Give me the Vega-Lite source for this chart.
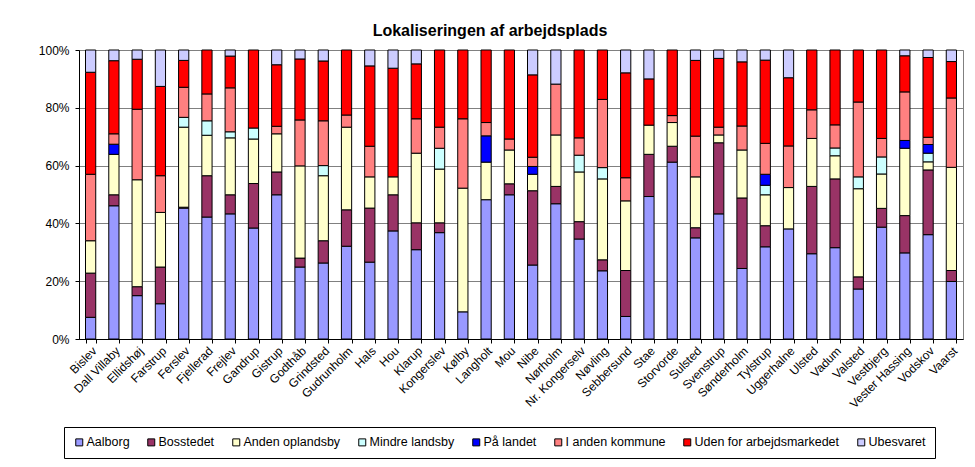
{
  "$schema": "https://vega.github.io/schema/vega-lite/v6.json",
  "width": 884,
  "height": 289,
  "autosize": "none",
  "padding": {"left": 79, "top": 50, "right": 12, "bottom": 128},
  "background": "white",
  "config": {
    "font": "Liberation Sans",
    "view": {"stroke": "#808080", "strokeWidth": 1}
  },
  "title": {
    "text": "Lokaliseringen af arbejdsplads",
    "fontSize": 16,
    "fontWeight": "bold",
    "color": "black",
    "anchor": "middle",
    "dx": -31,
    "offset": 5
  },
  "data": {
    "values": [
      {"by": "Bislev", "kat": "Aalborg", "n": 1, "v": 7.5}, {"by": "Bislev", "kat": "Bosstedet", "n": 2, "v": 15.3}, {"by": "Bislev", "kat": "Anden oplandsby", "n": 3, "v": 11.2}, {"by": "Bislev", "kat": "I anden kommune", "n": 6, "v": 23.0}, {"by": "Bislev", "kat": "Uden for arbejdsmarkedet", "n": 7, "v": 35.3}, {"by": "Bislev", "kat": "Ubesvaret", "n": 8, "v": 7.7},
      {"by": "Dall Villaby", "kat": "Aalborg", "n": 1, "v": 46.1}, {"by": "Dall Villaby", "kat": "Bosstedet", "n": 2, "v": 3.8}, {"by": "Dall Villaby", "kat": "Anden oplandsby", "n": 3, "v": 14.0}, {"by": "Dall Villaby", "kat": "På landet", "n": 5, "v": 3.5}, {"by": "Dall Villaby", "kat": "I anden kommune", "n": 6, "v": 3.6}, {"by": "Dall Villaby", "kat": "Uden for arbejdsmarkedet", "n": 7, "v": 25.3}, {"by": "Dall Villaby", "kat": "Ubesvaret", "n": 8, "v": 3.7},
      {"by": "Ellidshøj", "kat": "Aalborg", "n": 1, "v": 15.0}, {"by": "Ellidshøj", "kat": "Bosstedet", "n": 2, "v": 3.1}, {"by": "Ellidshøj", "kat": "Anden oplandsby", "n": 3, "v": 37.0}, {"by": "Ellidshøj", "kat": "I anden kommune", "n": 6, "v": 24.4}, {"by": "Ellidshøj", "kat": "Uden for arbejdsmarkedet", "n": 7, "v": 17.3}, {"by": "Ellidshøj", "kat": "Ubesvaret", "n": 8, "v": 3.2},
      {"by": "Farstrup", "kat": "Aalborg", "n": 1, "v": 12.2}, {"by": "Farstrup", "kat": "Bosstedet", "n": 2, "v": 12.7}, {"by": "Farstrup", "kat": "Anden oplandsby", "n": 3, "v": 18.9}, {"by": "Farstrup", "kat": "I anden kommune", "n": 6, "v": 12.7}, {"by": "Farstrup", "kat": "Uden for arbejdsmarkedet", "n": 7, "v": 30.9}, {"by": "Farstrup", "kat": "Ubesvaret", "n": 8, "v": 12.6},
      {"by": "Ferslev", "kat": "Aalborg", "n": 1, "v": 45.3}, {"by": "Ferslev", "kat": "Bosstedet", "n": 2, "v": 0.3}, {"by": "Ferslev", "kat": "Anden oplandsby", "n": 3, "v": 27.7}, {"by": "Ferslev", "kat": "Mindre landsby", "n": 4, "v": 3.4}, {"by": "Ferslev", "kat": "I anden kommune", "n": 6, "v": 10.4}, {"by": "Ferslev", "kat": "Uden for arbejdsmarkedet", "n": 7, "v": 9.3}, {"by": "Ferslev", "kat": "Ubesvaret", "n": 8, "v": 3.6},
      {"by": "Fjellerad", "kat": "Aalborg", "n": 1, "v": 42.2}, {"by": "Fjellerad", "kat": "Bosstedet", "n": 2, "v": 14.3}, {"by": "Fjellerad", "kat": "Anden oplandsby", "n": 3, "v": 14.0}, {"by": "Fjellerad", "kat": "Mindre landsby", "n": 4, "v": 5.0}, {"by": "Fjellerad", "kat": "I anden kommune", "n": 6, "v": 9.3}, {"by": "Fjellerad", "kat": "Uden for arbejdsmarkedet", "n": 7, "v": 15.2},
      {"by": "Frejlev", "kat": "Aalborg", "n": 1, "v": 43.3}, {"by": "Frejlev", "kat": "Bosstedet", "n": 2, "v": 6.6}, {"by": "Frejlev", "kat": "Anden oplandsby", "n": 3, "v": 19.7}, {"by": "Frejlev", "kat": "Mindre landsby", "n": 4, "v": 2.1}, {"by": "Frejlev", "kat": "I anden kommune", "n": 6, "v": 15.2}, {"by": "Frejlev", "kat": "Uden for arbejdsmarkedet", "n": 7, "v": 11.0}, {"by": "Frejlev", "kat": "Ubesvaret", "n": 8, "v": 2.1},
      {"by": "Gandrup", "kat": "Aalborg", "n": 1, "v": 38.4}, {"by": "Gandrup", "kat": "Bosstedet", "n": 2, "v": 15.4}, {"by": "Gandrup", "kat": "Anden oplandsby", "n": 3, "v": 15.4}, {"by": "Gandrup", "kat": "Mindre landsby", "n": 4, "v": 3.8}, {"by": "Gandrup", "kat": "Uden for arbejdsmarkedet", "n": 7, "v": 27.0},
      {"by": "Gistrup", "kat": "Aalborg", "n": 1, "v": 49.9}, {"by": "Gistrup", "kat": "Bosstedet", "n": 2, "v": 7.9}, {"by": "Gistrup", "kat": "Anden oplandsby", "n": 3, "v": 13.2}, {"by": "Gistrup", "kat": "I anden kommune", "n": 6, "v": 2.6}, {"by": "Gistrup", "kat": "Uden for arbejdsmarkedet", "n": 7, "v": 21.3}, {"by": "Gistrup", "kat": "Ubesvaret", "n": 8, "v": 5.1},
      {"by": "Godthåb", "kat": "Aalborg", "n": 1, "v": 24.9}, {"by": "Godthåb", "kat": "Bosstedet", "n": 2, "v": 3.1}, {"by": "Godthåb", "kat": "Anden oplandsby", "n": 3, "v": 31.9}, {"by": "Godthåb", "kat": "I anden kommune", "n": 6, "v": 15.9}, {"by": "Godthåb", "kat": "Uden for arbejdsmarkedet", "n": 7, "v": 21.1}, {"by": "Godthåb", "kat": "Ubesvaret", "n": 8, "v": 3.1},
      {"by": "Grindsted", "kat": "Aalborg", "n": 1, "v": 26.3}, {"by": "Grindsted", "kat": "Bosstedet", "n": 2, "v": 7.7}, {"by": "Grindsted", "kat": "Anden oplandsby", "n": 3, "v": 22.5}, {"by": "Grindsted", "kat": "Mindre landsby", "n": 4, "v": 3.5}, {"by": "Grindsted", "kat": "I anden kommune", "n": 6, "v": 15.5}, {"by": "Grindsted", "kat": "Uden for arbejdsmarkedet", "n": 7, "v": 20.7}, {"by": "Grindsted", "kat": "Ubesvaret", "n": 8, "v": 3.8},
      {"by": "Gudrunholm", "kat": "Aalborg", "n": 1, "v": 32.1}, {"by": "Gudrunholm", "kat": "Bosstedet", "n": 2, "v": 12.6}, {"by": "Gudrunholm", "kat": "Anden oplandsby", "n": 3, "v": 28.6}, {"by": "Gudrunholm", "kat": "I anden kommune", "n": 6, "v": 4.2}, {"by": "Gudrunholm", "kat": "Uden for arbejdsmarkedet", "n": 7, "v": 22.5},
      {"by": "Hals", "kat": "Aalborg", "n": 1, "v": 26.6}, {"by": "Hals", "kat": "Bosstedet", "n": 2, "v": 18.7}, {"by": "Hals", "kat": "Anden oplandsby", "n": 3, "v": 10.8}, {"by": "Hals", "kat": "I anden kommune", "n": 6, "v": 10.6}, {"by": "Hals", "kat": "Uden for arbejdsmarkedet", "n": 7, "v": 27.8}, {"by": "Hals", "kat": "Ubesvaret", "n": 8, "v": 5.5},
      {"by": "Hou", "kat": "Aalborg", "n": 1, "v": 37.4}, {"by": "Hou", "kat": "Bosstedet", "n": 2, "v": 12.5}, {"by": "Hou", "kat": "Anden oplandsby", "n": 3, "v": 6.2}, {"by": "Hou", "kat": "Uden for arbejdsmarkedet", "n": 7, "v": 37.6}, {"by": "Hou", "kat": "Ubesvaret", "n": 8, "v": 6.3},
      {"by": "Klarup", "kat": "Aalborg", "n": 1, "v": 30.9}, {"by": "Klarup", "kat": "Bosstedet", "n": 2, "v": 9.3}, {"by": "Klarup", "kat": "Anden oplandsby", "n": 3, "v": 24.1}, {"by": "Klarup", "kat": "I anden kommune", "n": 6, "v": 11.9}, {"by": "Klarup", "kat": "Uden for arbejdsmarkedet", "n": 7, "v": 19.0}, {"by": "Klarup", "kat": "Ubesvaret", "n": 8, "v": 4.8},
      {"by": "Kongerslev", "kat": "Aalborg", "n": 1, "v": 36.8}, {"by": "Kongerslev", "kat": "Bosstedet", "n": 2, "v": 3.4}, {"by": "Kongerslev", "kat": "Anden oplandsby", "n": 3, "v": 18.6}, {"by": "Kongerslev", "kat": "Mindre landsby", "n": 4, "v": 7.2}, {"by": "Kongerslev", "kat": "I anden kommune", "n": 6, "v": 7.3}, {"by": "Kongerslev", "kat": "Uden for arbejdsmarkedet", "n": 7, "v": 26.7},
      {"by": "Kølby", "kat": "Aalborg", "n": 1, "v": 9.4}, {"by": "Kølby", "kat": "Anden oplandsby", "n": 3, "v": 42.8}, {"by": "Kølby", "kat": "I anden kommune", "n": 6, "v": 24.0}, {"by": "Kølby", "kat": "Uden for arbejdsmarkedet", "n": 7, "v": 23.8},
      {"by": "Langholt", "kat": "Aalborg", "n": 1, "v": 48.2}, {"by": "Langholt", "kat": "Anden oplandsby", "n": 3, "v": 13.0}, {"by": "Langholt", "kat": "På landet", "n": 5, "v": 9.1}, {"by": "Langholt", "kat": "I anden kommune", "n": 6, "v": 4.6}, {"by": "Langholt", "kat": "Uden for arbejdsmarkedet", "n": 7, "v": 25.1},
      {"by": "Mou", "kat": "Aalborg", "n": 1, "v": 49.9}, {"by": "Mou", "kat": "Bosstedet", "n": 2, "v": 3.8}, {"by": "Mou", "kat": "Anden oplandsby", "n": 3, "v": 11.7}, {"by": "Mou", "kat": "I anden kommune", "n": 6, "v": 3.8}, {"by": "Mou", "kat": "Uden for arbejdsmarkedet", "n": 7, "v": 30.8},
      {"by": "Nibe", "kat": "Aalborg", "n": 1, "v": 25.6}, {"by": "Nibe", "kat": "Bosstedet", "n": 2, "v": 25.7}, {"by": "Nibe", "kat": "Anden oplandsby", "n": 3, "v": 5.7}, {"by": "Nibe", "kat": "På landet", "n": 5, "v": 2.7}, {"by": "Nibe", "kat": "I anden kommune", "n": 6, "v": 3.2}, {"by": "Nibe", "kat": "Uden for arbejdsmarkedet", "n": 7, "v": 28.5}, {"by": "Nibe", "kat": "Ubesvaret", "n": 8, "v": 8.6},
      {"by": "Nørholm", "kat": "Aalborg", "n": 1, "v": 46.8}, {"by": "Nørholm", "kat": "Bosstedet", "n": 2, "v": 6.0}, {"by": "Nørholm", "kat": "Anden oplandsby", "n": 3, "v": 17.8}, {"by": "Nørholm", "kat": "I anden kommune", "n": 6, "v": 17.6}, {"by": "Nørholm", "kat": "Ubesvaret", "n": 8, "v": 11.8},
      {"by": "Nr. Kongerselv", "kat": "Aalborg", "n": 1, "v": 34.6}, {"by": "Nr. Kongerselv", "kat": "Bosstedet", "n": 2, "v": 6.0}, {"by": "Nr. Kongerselv", "kat": "Anden oplandsby", "n": 3, "v": 17.2}, {"by": "Nr. Kongerselv", "kat": "Mindre landsby", "n": 4, "v": 5.8}, {"by": "Nr. Kongerselv", "kat": "I anden kommune", "n": 6, "v": 6.0}, {"by": "Nr. Kongerselv", "kat": "Uden for arbejdsmarkedet", "n": 7, "v": 30.4},
      {"by": "Nøvling", "kat": "Aalborg", "n": 1, "v": 23.6}, {"by": "Nøvling", "kat": "Bosstedet", "n": 2, "v": 3.8}, {"by": "Nøvling", "kat": "Anden oplandsby", "n": 3, "v": 28.0}, {"by": "Nøvling", "kat": "Mindre landsby", "n": 4, "v": 3.9}, {"by": "Nøvling", "kat": "I anden kommune", "n": 6, "v": 23.6}, {"by": "Nøvling", "kat": "Uden for arbejdsmarkedet", "n": 7, "v": 17.1},
      {"by": "Sebbersund", "kat": "Aalborg", "n": 1, "v": 7.8}, {"by": "Sebbersund", "kat": "Bosstedet", "n": 2, "v": 15.9}, {"by": "Sebbersund", "kat": "Anden oplandsby", "n": 3, "v": 24.1}, {"by": "Sebbersund", "kat": "I anden kommune", "n": 6, "v": 8.0}, {"by": "Sebbersund", "kat": "Uden for arbejdsmarkedet", "n": 7, "v": 36.3}, {"by": "Sebbersund", "kat": "Ubesvaret", "n": 8, "v": 7.9},
      {"by": "Stae", "kat": "Aalborg", "n": 1, "v": 49.3}, {"by": "Stae", "kat": "Bosstedet", "n": 2, "v": 14.6}, {"by": "Stae", "kat": "Anden oplandsby", "n": 3, "v": 10.1}, {"by": "Stae", "kat": "Uden for arbejdsmarkedet", "n": 7, "v": 16.0}, {"by": "Stae", "kat": "Ubesvaret", "n": 8, "v": 10.0},
      {"by": "Storvorde", "kat": "Aalborg", "n": 1, "v": 61.2}, {"by": "Storvorde", "kat": "Bosstedet", "n": 2, "v": 5.5}, {"by": "Storvorde", "kat": "Anden oplandsby", "n": 3, "v": 8.2}, {"by": "Storvorde", "kat": "I anden kommune", "n": 6, "v": 2.4}, {"by": "Storvorde", "kat": "Uden for arbejdsmarkedet", "n": 7, "v": 22.7},
      {"by": "Sulsted", "kat": "Aalborg", "n": 1, "v": 35.0}, {"by": "Sulsted", "kat": "Bosstedet", "n": 2, "v": 3.5}, {"by": "Sulsted", "kat": "Anden oplandsby", "n": 3, "v": 17.6}, {"by": "Sulsted", "kat": "I anden kommune", "n": 6, "v": 14.1}, {"by": "Sulsted", "kat": "Uden for arbejdsmarkedet", "n": 7, "v": 26.2}, {"by": "Sulsted", "kat": "Ubesvaret", "n": 8, "v": 3.6},
      {"by": "Svenstrup", "kat": "Aalborg", "n": 1, "v": 43.3}, {"by": "Svenstrup", "kat": "Bosstedet", "n": 2, "v": 24.6}, {"by": "Svenstrup", "kat": "Anden oplandsby", "n": 3, "v": 2.7}, {"by": "Svenstrup", "kat": "I anden kommune", "n": 6, "v": 2.7}, {"by": "Svenstrup", "kat": "Uden for arbejdsmarkedet", "n": 7, "v": 23.8}, {"by": "Svenstrup", "kat": "Ubesvaret", "n": 8, "v": 2.9},
      {"by": "Sønderholm", "kat": "Aalborg", "n": 1, "v": 24.4}, {"by": "Sønderholm", "kat": "Bosstedet", "n": 2, "v": 24.4}, {"by": "Sønderholm", "kat": "Anden oplandsby", "n": 3, "v": 16.6}, {"by": "Sønderholm", "kat": "I anden kommune", "n": 6, "v": 8.3}, {"by": "Sønderholm", "kat": "Uden for arbejdsmarkedet", "n": 7, "v": 22.2}, {"by": "Sønderholm", "kat": "Ubesvaret", "n": 8, "v": 4.1},
      {"by": "Tylstrup", "kat": "Aalborg", "n": 1, "v": 31.9}, {"by": "Tylstrup", "kat": "Bosstedet", "n": 2, "v": 7.3}, {"by": "Tylstrup", "kat": "Anden oplandsby", "n": 3, "v": 10.7}, {"by": "Tylstrup", "kat": "Mindre landsby", "n": 4, "v": 3.3}, {"by": "Tylstrup", "kat": "På landet", "n": 5, "v": 3.8}, {"by": "Tylstrup", "kat": "I anden kommune", "n": 6, "v": 10.7}, {"by": "Tylstrup", "kat": "Uden for arbejdsmarkedet", "n": 7, "v": 28.8}, {"by": "Tylstrup", "kat": "Ubesvaret", "n": 8, "v": 3.5},
      {"by": "Uggerhalne", "kat": "Aalborg", "n": 1, "v": 38.1}, {"by": "Uggerhalne", "kat": "Anden oplandsby", "n": 3, "v": 14.3}, {"by": "Uggerhalne", "kat": "I anden kommune", "n": 6, "v": 14.4}, {"by": "Uggerhalne", "kat": "Uden for arbejdsmarkedet", "n": 7, "v": 23.6}, {"by": "Uggerhalne", "kat": "Ubesvaret", "n": 8, "v": 9.6},
      {"by": "Ulsted", "kat": "Aalborg", "n": 1, "v": 29.5}, {"by": "Ulsted", "kat": "Bosstedet", "n": 2, "v": 23.3}, {"by": "Ulsted", "kat": "Anden oplandsby", "n": 3, "v": 16.6}, {"by": "Ulsted", "kat": "I anden kommune", "n": 6, "v": 9.9}, {"by": "Ulsted", "kat": "Uden for arbejdsmarkedet", "n": 7, "v": 20.7},
      {"by": "Vadum", "kat": "Aalborg", "n": 1, "v": 31.6}, {"by": "Vadum", "kat": "Bosstedet", "n": 2, "v": 23.8}, {"by": "Vadum", "kat": "Anden oplandsby", "n": 3, "v": 8.0}, {"by": "Vadum", "kat": "Mindre landsby", "n": 4, "v": 2.7}, {"by": "Vadum", "kat": "I anden kommune", "n": 6, "v": 8.0}, {"by": "Vadum", "kat": "Uden for arbejdsmarkedet", "n": 7, "v": 25.9},
      {"by": "Valsted", "kat": "Aalborg", "n": 1, "v": 17.3}, {"by": "Valsted", "kat": "Bosstedet", "n": 2, "v": 4.2}, {"by": "Valsted", "kat": "Anden oplandsby", "n": 3, "v": 30.5}, {"by": "Valsted", "kat": "Mindre landsby", "n": 4, "v": 4.1}, {"by": "Valsted", "kat": "I anden kommune", "n": 6, "v": 25.9}, {"by": "Valsted", "kat": "Uden for arbejdsmarkedet", "n": 7, "v": 18.0},
      {"by": "Vestbjerg", "kat": "Aalborg", "n": 1, "v": 38.7}, {"by": "Vestbjerg", "kat": "Bosstedet", "n": 2, "v": 6.5}, {"by": "Vestbjerg", "kat": "Anden oplandsby", "n": 3, "v": 11.9}, {"by": "Vestbjerg", "kat": "Mindre landsby", "n": 4, "v": 5.9}, {"by": "Vestbjerg", "kat": "I anden kommune", "n": 6, "v": 6.4}, {"by": "Vestbjerg", "kat": "Uden for arbejdsmarkedet", "n": 7, "v": 30.6},
      {"by": "Vester Hassing", "kat": "Aalborg", "n": 1, "v": 29.8}, {"by": "Vester Hassing", "kat": "Bosstedet", "n": 2, "v": 12.9}, {"by": "Vester Hassing", "kat": "Anden oplandsby", "n": 3, "v": 23.3}, {"by": "Vester Hassing", "kat": "På landet", "n": 5, "v": 2.7}, {"by": "Vester Hassing", "kat": "I anden kommune", "n": 6, "v": 16.8}, {"by": "Vester Hassing", "kat": "Uden for arbejdsmarkedet", "n": 7, "v": 12.5}, {"by": "Vester Hassing", "kat": "Ubesvaret", "n": 8, "v": 2.0},
      {"by": "Vodskov", "kat": "Aalborg", "n": 1, "v": 36.1}, {"by": "Vodskov", "kat": "Bosstedet", "n": 2, "v": 22.4}, {"by": "Vodskov", "kat": "Anden oplandsby", "n": 3, "v": 2.8}, {"by": "Vodskov", "kat": "Mindre landsby", "n": 4, "v": 3.0}, {"by": "Vodskov", "kat": "På landet", "n": 5, "v": 3.0}, {"by": "Vodskov", "kat": "I anden kommune", "n": 6, "v": 2.5}, {"by": "Vodskov", "kat": "Uden for arbejdsmarkedet", "n": 7, "v": 27.6}, {"by": "Vodskov", "kat": "Ubesvaret", "n": 8, "v": 2.6},
      {"by": "Vaarst", "kat": "Aalborg", "n": 1, "v": 19.9}, {"by": "Vaarst", "kat": "Bosstedet", "n": 2, "v": 3.8}, {"by": "Vaarst", "kat": "Anden oplandsby", "n": 3, "v": 35.7}, {"by": "Vaarst", "kat": "I anden kommune", "n": 6, "v": 24.0}, {"by": "Vaarst", "kat": "Uden for arbejdsmarkedet", "n": 7, "v": 12.6}, {"by": "Vaarst", "kat": "Ubesvaret", "n": 8, "v": 4.0}
    ]
  },
  "mark": {"type": "bar", "stroke": "black", "strokeWidth": 1},
  "encoding": {
    "x": {
      "field": "by",
      "type": "nominal",
      "sort": null,
      "scale": {"paddingInner": 0.56, "paddingOuter": 0.28},
      "axis": {
        "title": null,
        "labelAngle": -45,
        "labelFontSize": 12,
        "labelColor": "black",
        "tickBand": "extent",
        "tickColor": "black",
        "tickSize": 4,
        "domainColor": "black",
        "labelPadding": 2
      }
    },
    "y": {
      "field": "v",
      "type": "quantitative",
      "stack": "normalize",
      "axis": {
        "title": null,
        "values": [0, 0.2, 0.4, 0.6, 0.8, 1],
        "format": ".0%",
        "labelFontSize": 12,
        "labelColor": "black",
        "tickColor": "black",
        "tickSize": 4,
        "labelPadding": 6,
        "domainColor": "black",
        "gridColor": "#808080",
        "gridOpacity": 1
      }
    },
    "order": {"field": "n", "type": "quantitative", "sort": "ascending"},
    "color": {
      "field": "kat",
      "type": "nominal",
      "scale": {
        "domain": ["Aalborg", "Bosstedet", "Anden oplandsby", "Mindre landsby", "På landet", "I anden kommune", "Uden for arbejdsmarkedet", "Ubesvaret"],
        "range": ["#9999FF", "#993366", "#FFFFCC", "#CCFFFF", "#0000FF", "#FF8080", "#FF0000", "#CCCCFF"]
      },
      "legend": {
        "title": null,
        "orient": "none",
        "legendX": -15,
        "legendY": 377,
        "direction": "horizontal",
        "columns": 8,
        "columnPadding": 15,
        "symbolType": "square",
        "symbolSize": 49,
        "symbolStrokeColor": "black",
        "symbolStrokeWidth": 1,
        "labelFontSize": 12.5,
        "labelColor": "black",
        "labelOffset": 1,
        "padding": 9,
        "strokeColor": "black"
      }
    }
  }
}
